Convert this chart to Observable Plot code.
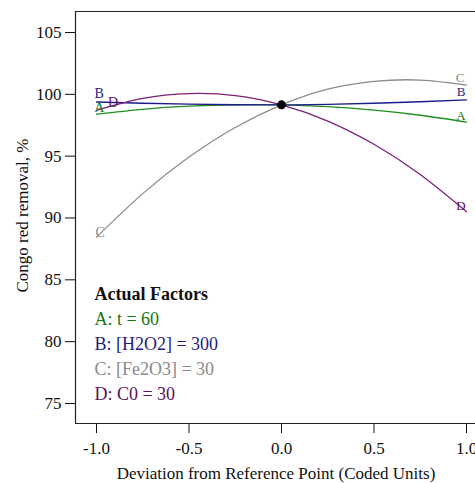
<!DOCTYPE html>
<html>
<head>
<meta charset="utf-8">
<script src="https://cdn.jsdelivr.net/npm/d3@7"></script>
<script src="https://cdn.jsdelivr.net/npm/@observablehq/plot@0.6"></script>
<style>
  html, body { margin: 0; padding: 0; background: white; overflow: hidden; }
  svg { display: block; }
</style>
</head>
<body>
<div id="chart"></div>
<script>
// Coded deviation from reference point
const xs = [-1, -0.75, -0.5, -0.25, 0, 0.25, 0.5, 0.75, 1];
// Congo red removal (%) for each factor
const factorA = [98.40, 98.79, 99.04, 99.16, 99.15, 99.00, 98.72, 98.31, 97.76];
const factorB = [99.38, 99.28, 99.21, 99.16, 99.15, 99.19, 99.28, 99.40, 99.56];
const factorC = [88.45, 91.97, 94.93, 97.32, 99.15, 100.42, 101.05, 101.15, 100.75];
const factorD = [98.70, 99.67, 100.06, 99.90, 99.15, 97.84, 95.96, 93.51, 90.50];
const factorNames = ["A", "B", "C", "D"];
const lineColors = ["#1f8f1f", "#1c1c8c", "#8c8c8c", "#7d1f7d"];
const textColors = ["#147814", "#1e1e80", "#8a8a8a", "#5c0f5c"];
const legendLines = ["A: t = 60", "B: [H2O2] = 300", "C: [Fe2O3] = 30", "D: C0 = 30"];
const legendTitle = "Actual Factors";
const refPoint = {x: 0, y: 99.15};
const xTicks = [-1, -0.5, 0, 0.5, 1];
const yTicks = [75, 80, 85, 90, 95, 100, 105];
const yLabel = "Congo red removal, %";
const xLabel = "Deviation from Reference Point (Coded Units)";
// end-letter label positions
const leftLabels = [{f: "A", x: -0.985, y: 98.95}, {f: "B", x: -0.985, y: 100.1}, {f: "C", x: -0.98, y: 88.8}, {f: "D", x: -0.91, y: 99.35}];
const rightLabels = [{f: "A", x: 0.97, y: 98.3}, {f: "B", x: 0.97, y: 100.2}, {f: "C", x: 0.965, y: 101.35}, {f: "D", x: 0.97, y: 91.0}];

const series = [factorA, factorB, factorC, factorD];
const data = [];
series.forEach((vals, i) => vals.forEach((v, j) => data.push({factor: factorNames[i], x: xs[j], y: v})));

const xDomain = [-1.1135, 1.0486];
const yDomain = [73.38, 106.70];
const colorOf = f => lineColors[factorNames.indexOf(f)];
const textColorOf = f => textColors[factorNames.indexOf(f)];

const legendData = legendLines.map((t, i) => ({t, f: factorNames[i], y: 81.81 - i * 2.02}));

const chart = Plot.plot({
  width: 475,
  height: 483,
  marginLeft: 75,
  marginRight: 0,
  marginTop: 11,
  marginBottom: 60,
  style: {fontFamily: "'Liberation Serif', 'Times New Roman', serif", fontSize: "17px", color: "#111", background: "white", overflow: "visible"},
  x: {domain: xDomain, ticks: xTicks, tickSize: 10, tickPadding: 8, tickFormat: d => d.toFixed(1), label: null},
  y: {domain: yDomain, ticks: yTicks, tickSize: 10, tickPadding: 4, tickFormat: d => String(d), label: null},
  marks: [
    Plot.ruleX([xDomain[0]], {stroke: "#222", strokeWidth: 1.2}),
    Plot.ruleY([yDomain[0], yDomain[1]], {stroke: "#222", strokeWidth: 1.2}),
    ...factorNames.map(f => Plot.line(data.filter(d => d.factor === f), {x: "x", y: "y", stroke: colorOf(f), strokeWidth: 1.3, curve: "natural"})),
    Plot.dot([refPoint], {x: "x", y: "y", r: 4.5, fill: "black"}),
    Plot.text(leftLabels, {x: "x", y: "y", text: "f", fill: d => textColorOf(d.f), fontSize: 14}),
    Plot.text(rightLabels, {x: "x", y: "y", text: "f", fill: d => textColorOf(d.f), fontSize: 13}),
    Plot.text([legendTitle], {x: -1.011, y: 83.83, text: d => d, textAnchor: "start", fontWeight: "bold", fontSize: 18, fill: "#111"}),
    Plot.text(legendData, {x: -1.011, y: "y", text: "t", textAnchor: "start", fontSize: 18, fill: d => textColorOf(d.f)}),
    Plot.text([yLabel], {x: -1.40, y: 90.2, text: d => d, rotate: -90, fontSize: 17, fill: "#111"}),
    Plot.text([xLabel], {x: -0.03, y: 69.3, text: d => d, fontSize: 17, fill: "#111"})
  ]
});
document.getElementById("chart").appendChild(chart);
</script>
</body>
</html>
